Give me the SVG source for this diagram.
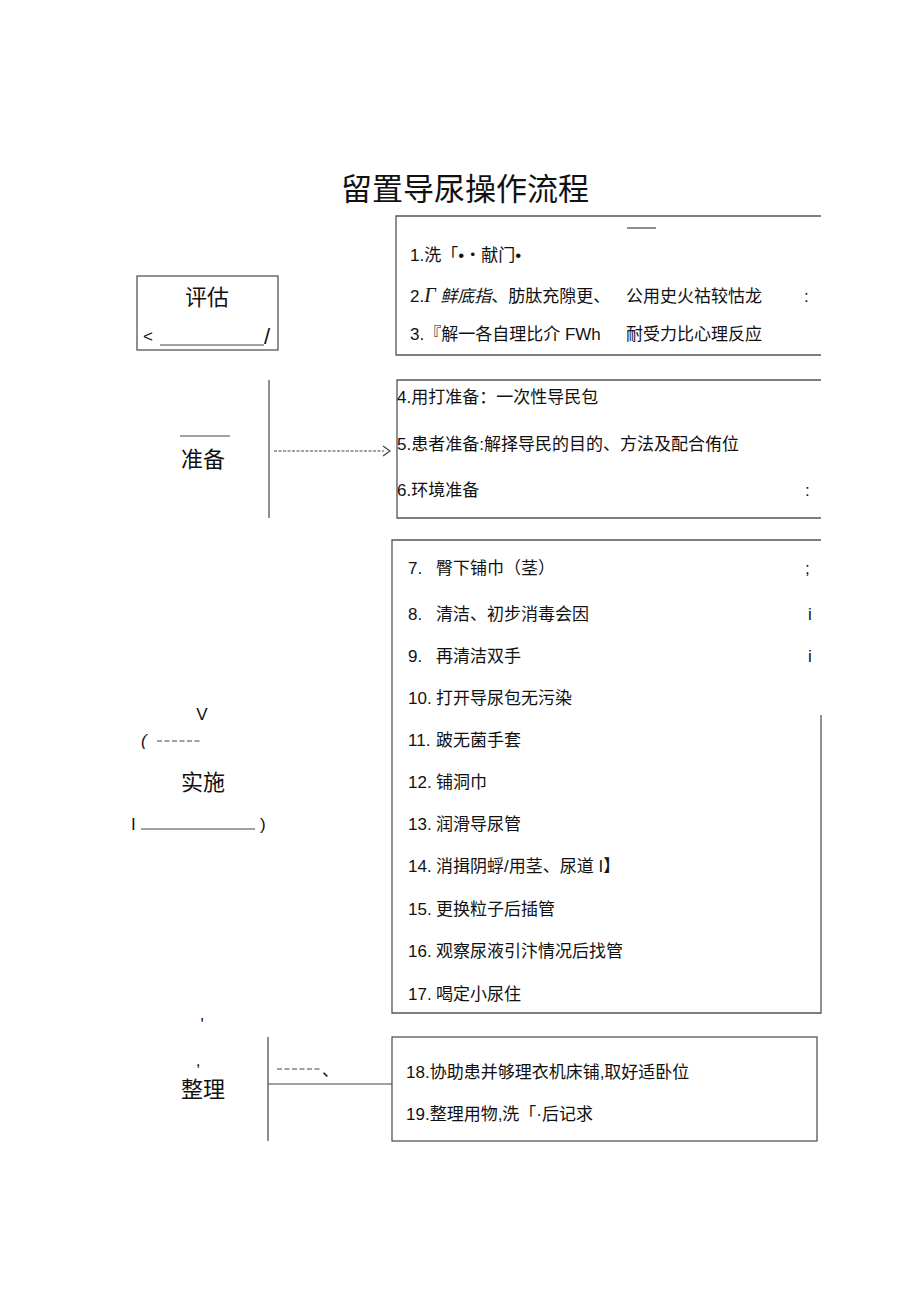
<svg xmlns="http://www.w3.org/2000/svg" width="920" height="1301" viewBox="0 0 920 1301">
<style>
text{font-family:"Liberation Sans","Noto Sans CJK SC",sans-serif;fill:#111}
.t{font-size:17px}
.h{font-size:22px}
.title{font-size:31px}
.b{fill:none;stroke:#555;stroke-width:1.3}
.l{stroke:#444;stroke-width:1.2;fill:none}
</style>
<rect width="920" height="1301" fill="#fff"/>
<text class="title" x="465" y="200" text-anchor="middle">留置导尿操作流程</text>

<g id="n-pinggu">
<rect class="b" x="137" y="276" width="141" height="74"/>
<text class="h" x="207" y="305" text-anchor="middle">评估</text>
<text class="t" x="143" y="342" font-size="20">&lt;</text>
<line class="l" x1="160" y1="345" x2="264" y2="345"/>
<text class="h" x="264" y="344">/</text>
</g>

<g id="n-box1">
<path class="b" d="M821 216 H396 V355 H821"/>
<line class="l" x1="627" y1="228" x2="656" y2="228"/>
<text class="t" x="410" y="261">1.洗「•・献门•</text>
<text class="t" x="410" y="302">2.<tspan font-style="italic" font-family="Liberation Serif,Noto Sans CJK SC,serif" font-size="20">Γ</tspan> <tspan font-style="italic">鲜底指</tspan>、肪肽充隙更、</text>
<text class="t" x="626" y="302">公用史火祜较怙龙</text>
<text class="t" x="804" y="302">:</text>
<text class="t" x="410" y="340">3.『解一各自理比介 FWh</text>
<text class="t" x="626" y="340">耐受力比心理反应</text>
</g>

<g id="n-zhunbei">
<line class="l" x1="180" y1="436" x2="230" y2="436"/>
<text class="h" x="203" y="467" text-anchor="middle">准备</text>
</g>

<g id="n-box2">
<path class="b" d="M821 380 H397 V518 H821"/>
<text class="t" x="397" y="403">4.用打准备：一次性导民包</text>
<text class="t" x="397" y="450">5.患者准备:解择导民的目的、方法及配合侑位</text>
<text class="t" x="397" y="496">6.环境准备</text>
<text class="t" x="805" y="496">:</text>
</g>

<g id="n-shishi">
<text class="t" x="202" y="720" text-anchor="middle">V</text>
<text class="t" x="141" y="746" font-style="italic">(</text>
<line class="l" x1="157" y1="741" x2="200" y2="741" stroke-dasharray="5,2.5" stroke-width="1.4"/>
<text class="h" x="203" y="790" text-anchor="middle">实施</text>
<text class="t" x="131" y="830">I</text>
<line class="l" x1="141" y1="829" x2="255" y2="829"/>
<text class="t" x="260" y="830">)</text>
</g>

<g id="n-box3">
<path class="b" d="M821 540 H392 V1013 H821 V715"/>
<text class="t" x="408" y="574">7.</text><text class="t" x="436" y="574">臀下铺巾（茎）</text>
<text class="t" x="805" y="574">;</text>
<text class="t" x="408" y="620">8.</text><text class="t" x="436" y="620">清洁、初步消毒会因</text>
<text class="t" x="808" y="620">i</text>
<text class="t" x="408" y="662">9.</text><text class="t" x="436" y="662">再清洁双手</text>
<text class="t" x="808" y="662">i</text>
<text class="t" x="408" y="704">10.</text><text class="t" x="436" y="704">打开导尿包无污染</text>
<text class="t" x="408" y="746">11.</text><text class="t" x="436" y="746">跛无菌手套</text>
<text class="t" x="408" y="788">12.</text><text class="t" x="436" y="788">铺洞巾</text>
<text class="t" x="408" y="830">13.</text><text class="t" x="436" y="830">润滑导尿管</text>
<text class="t" x="408" y="872">14.</text><text class="t" x="436" y="872">消揖阴蜉/用茎、尿道 I】</text>
<text class="t" x="408" y="915">15.</text><text class="t" x="436" y="915">更换粒子后插管</text>
<text class="t" x="408" y="957">16.</text><text class="t" x="436" y="957">观察尿液引汴情况后找管</text>
<text class="t" x="408" y="1000">17.</text><text class="t" x="436" y="1000">喝定小尿住</text>
</g>

<g id="n-zhengli">
<text class="t" x="202" y="1030" text-anchor="middle">'</text>
<text class="t" x="198" y="1066" text-anchor="middle">,</text>
<text class="h" x="203" y="1097" text-anchor="middle">整理</text>
</g>

<g id="n-box4">
<rect class="b" x="392" y="1037" width="425" height="104"/>
<text class="t" x="406" y="1078">18.协助患并够理衣机床铺,取好适卧位</text>
<text class="t" x="406" y="1120">19.整理用物,洗「·后记求</text>
</g>

<g id="connectors">
<line class="l" x1="269" y1="380" x2="269" y2="518"/>
<line class="l" x1="274" y1="451" x2="384" y2="451" stroke-dasharray="3,1.5" stroke-width="1.3" stroke="#222"/>
<path class="l" d="M383 446 L390 451 L383 456" stroke-width="1.2" stroke="#222"/>
<line class="l" x1="268" y1="1037" x2="268" y2="1141"/>
<line class="l" x1="268" y1="1084" x2="392" y2="1084"/>
<line class="l" x1="277" y1="1069" x2="320" y2="1069" stroke-dasharray="5,2.5" stroke-width="1.4"/>
<text class="t" x="322" y="1076">、</text>
</g>
</svg>
